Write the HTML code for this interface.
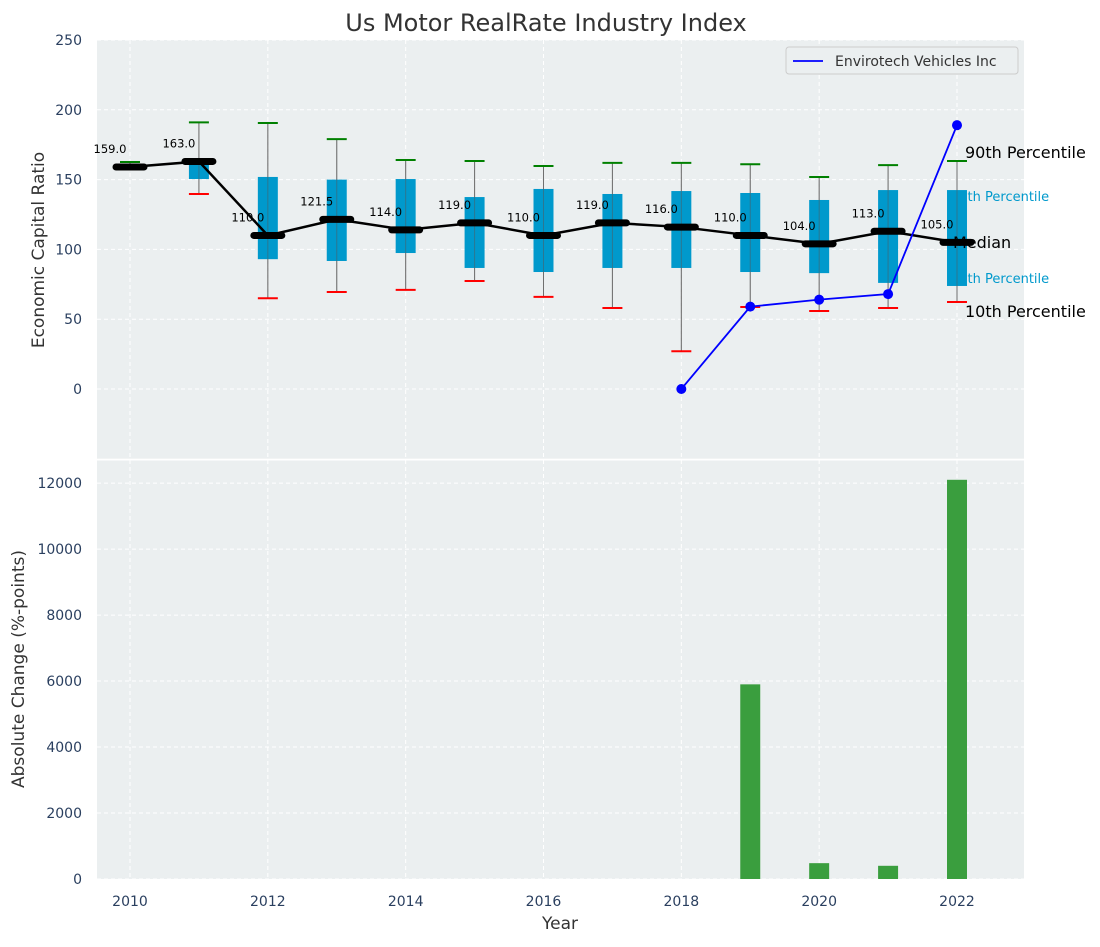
<!DOCTYPE html>
<html><head><meta charset="utf-8"><style>
body{margin:0;background:#fff;font-family:"Liberation Sans","DejaVu Sans",sans-serif}
svg text{font-family:"DejaVu Sans","Liberation Sans",sans-serif}
</style></head><body>
<svg id="c" width="1100" height="942" xmlns="http://www.w3.org/2000/svg"></svg>
<script>
const years=[2010,2011,2012,2013,2014,2015,2016,2017,2018,2019,2020,2021,2022];
const medians=[159,163,110,121.5,114,119,110,119,116,110,104,113,105];
const p25=[159,150.4,93,91.7,97.4,86.7,83.8,86.7,86.7,83.8,83,76,73.8];
const p75=[159,163,151.9,150,150.4,137.5,143.3,139.7,141.8,140.4,135.4,142.5,142.5];
const p10=[159,139.7,65,69.5,71,77.4,66,58,27,58.7,55.9,58,62.3];
const p90=[162.6,191,190.5,179,164,163.3,159.7,162,162,161,151.9,160.4,163.3];
const compYears=[2018,2019,2020,2021,2022];
const compValues=[0,59,64,68,189];
const barYears=[2019,2020,2021,2022];
const barValues=[5900,480,400,12100];
const yTicksTop=[0,50,100,150,200,250];
const yTicksBot=[0,2000,4000,6000,8000,10000,12000];
const xTicks=[2010,2012,2014,2016,2018,2020,2022];

const NS="http://www.w3.org/2000/svg";
const svg=document.getElementById('c');
function el(t,a,p){const e=document.createElementNS(NS,t);for(const k in a)e.setAttribute(k,a[k]);(p||svg).appendChild(e);return e;}
const L=97,R=1024;
const x=v=>130+(v-2010)*(957-130)/12;
const T0=40,T1=458.8,y1=v=>T1-(v+50)/300*(T1-T0);
const B0=460,B1=879,y2=v=>B1-v/12700*(B1-B0);
const tc='#2a3f5f';

let e=el('rect',{x:L,y:T0,width:R-L,height:T1-T0,fill:'#ebeff0'});

e=el('rect',{x:L,y:B0,width:R-L,height:B1-B0,fill:'#ebeff0'});

xTicks.forEach(v=>{el('line',{x1:x(v),x2:x(v),y1:T0,y2:T1,stroke:'#fff','stroke-dasharray':'4,3'});el('line',{x1:x(v),x2:x(v),y1:B0,y2:B1,stroke:'#fff','stroke-dasharray':'4,3'});
 const t=el('text',{x:x(v),y:B1+27,'text-anchor':'middle','font-size':14,fill:tc});t.textContent=v;
 });
yTicksTop.forEach(v=>{el('line',{x1:L,x2:R,y1:y1(v),y2:y1(v),stroke:'#fff','stroke-dasharray':'4,3'});
 const t=el('text',{x:L-15,y:y1(v)+5,'text-anchor':'end','font-size':14,fill:tc});t.textContent=v;
 });
yTicksBot.forEach(v=>{el('line',{x1:L,x2:R,y1:y2(v),y2:y2(v),stroke:'#fff','stroke-dasharray':'4,3'});
 const t=el('text',{x:L-15,y:y2(v)+5,'text-anchor':'end','font-size':14,fill:tc});t.textContent=v;
 });

[['90th Percentile',965,158,'#000',16],['75th Percentile',951,201,'#0099cc',13],['25th Percentile',951,283,'#0099cc',13],['10th Percentile',965,317,'#000',16]].forEach(d=>{
 const t=el('text',{x:d[1],y:d[2],'font-size':d[4],fill:d[3]});t.textContent=d[0];
 });

const bw=0.29*(x(1)-x(0)), hw=bw/2;
years.forEach((yr,i)=>{
 const cx=x(yr);
 el('line',{x1:cx,x2:cx,y1:y1(p90[i]),y2:y1(p10[i]),stroke:'#888','stroke-width':1});
 if(p75[i]>p25[i]){const b=el('rect',{x:cx-hw,y:y1(p75[i]),width:bw,height:y1(p25[i])-y1(p75[i]),fill:'#0099cc'});
  }
 el('line',{x1:cx,x2:cx,y1:y1(p90[i]),y2:y1(p10[i]),stroke:'#555','stroke-width':1,'stroke-opacity':0.5});
 let c=el('line',{x1:cx-hw,x2:cx+hw,y1:y1(p90[i]),y2:y1(p90[i]),stroke:'green','stroke-width':2});
 
 c=el('line',{x1:cx-hw,x2:cx+hw,y1:y1(p10[i]),y2:y1(p10[i]),stroke:'red','stroke-width':2});
 
});
let pl=el('polyline',{points:years.map((v,i)=>x(v)+','+y1(medians[i])).join(' '),fill:'none',stroke:'#000','stroke-width':2.5});

years.forEach((yr,i)=>{
 const m=el('line',{x1:x(yr)-14,x2:x(yr)+14,y1:y1(medians[i]),y2:y1(medians[i]),stroke:'#000','stroke-width':7,'stroke-linecap':'round'});
 
 const t=el('text',{x:x(yr)-20,y:y1(medians[i])-14,'text-anchor':'middle','font-size':11.5,fill:'#000'});
 t.textContent=medians[i].toFixed(1);
 
});
let mt=el('text',{x:953,y:248,'font-size':16,fill:'#000'});mt.textContent='Median';

pl=el('polyline',{points:compYears.map((v,i)=>x(v)+','+y1(compValues[i])).join(' '),fill:'none',stroke:'#0000ff','stroke-width':1.8});

compYears.forEach((v,i)=>{const c=el('circle',{cx:x(v),cy:y1(compValues[i]),r:5,fill:'#0000ff'});
 });
barYears.forEach((v,i)=>{const b=el('rect',{x:x(v)-0.145*(x(1)-x(0)),y:y2(barValues[i]),width:0.29*(x(1)-x(0)),height:B1-y2(barValues[i]),fill:'#3a9e3e'});
 });
el('rect',{x:L,y:T1,width:R-L,height:B0-T1+0.5,fill:'#fff'});
const g=el('g',{});
el('rect',{x:786,y:47,width:232,height:27,rx:3,fill:'#ebeff0',stroke:'#ccc'},g);
el('line',{x1:793,x2:823,y1:61,y2:61,stroke:'#0000ff','stroke-width':1.8},g);
let t=el('text',{x:835,y:66,'font-size':14,fill:'#333'},g);t.textContent='Envirotech Vehicles Inc';
t=el('text',{x:546,y:31,'text-anchor':'middle','font-size':24,fill:'#333'});t.textContent='Us Motor RealRate Industry Index';

t=el('text',{x:44,y:250,'text-anchor':'middle','font-size':17,fill:'#333',transform:'rotate(-90 44 250)'});t.textContent='Economic Capital Ratio';

t=el('text',{x:24,y:669,'text-anchor':'middle','font-size':17,fill:'#333',transform:'rotate(-90 24 669)'});t.textContent='Absolute Change (%-points)';

t=el('text',{x:560,y:929,'text-anchor':'middle','font-size':17,fill:'#333'});t.textContent='Year';

</script>
</body></html>
